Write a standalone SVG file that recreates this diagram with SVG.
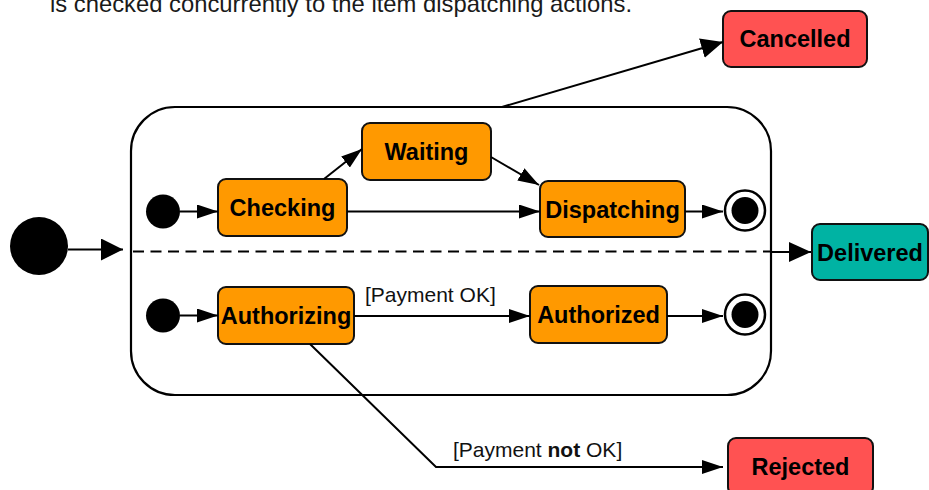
<svg xmlns="http://www.w3.org/2000/svg" width="929" height="490" viewBox="0 0 929 490">
  <style>
    .state { stroke: #111; stroke-width: 2; }
    .work { fill: #FF9900; }
    .fail { fill: #FF5252; }
    .done { fill: #00B3A3; }
    .label { font-family: "Liberation Sans", Arial, sans-serif; font-size: 23.5px; font-weight: bold; fill: #000; text-anchor: middle; }
    .guard { font-family: "Liberation Sans", Arial, sans-serif; font-size: 21px; fill: #111; }
    .edge { fill: none; stroke: #000; stroke-width: 2; }
  </style>
  <defs>
    <marker id="arrow" markerUnits="userSpaceOnUse" markerWidth="21" markerHeight="14" refX="21" refY="7" orient="auto">
      <path d="M0,0 L21,7 L0,14 z" fill="#000"/>
    </marker>
    <marker id="arrowMid" markerUnits="userSpaceOnUse" markerWidth="22" markerHeight="20" refX="22" refY="10" orient="auto">
      <path d="M0,0 L22,10 L0,20 z" fill="#000"/>
    </marker>
    <marker id="arrowBig" markerUnits="userSpaceOnUse" markerWidth="22" markerHeight="22" refX="22" refY="11" orient="auto">
      <path d="M0,0 L22,11 L0,22 z" fill="#000"/>
    </marker>
  </defs>

  <text x="50" y="12" font-family="'Liberation Sans', Arial, sans-serif" font-size="23.8" fill="#1a1a1a">is checked concurrently to the item dispatching actions.</text>

  <!-- composite state with two concurrent regions -->
  <g id="order-processing">
    <rect x="131" y="107" width="640" height="288" rx="44" ry="44" fill="#fff" stroke="#000" stroke-width="2.2"/>
    <line x1="133" y1="251.5" x2="770" y2="251.5" stroke="#000" stroke-width="2" stroke-dasharray="11 6.5"/>
  </g>

  <g id="start">
    <circle cx="39" cy="246" r="29" fill="#000"/>
  </g>

  <g id="init-dispatch">
    <circle cx="163" cy="211.5" r="17" fill="#000"/>
  </g>
  <g id="init-payment">
    <circle cx="163" cy="315.5" r="17" fill="#000"/>
  </g>

  <g id="checking">
    <rect class="state work" x="218" y="179" width="129" height="57" rx="8"/>
    <text class="label" x="282.5" y="216">Checking</text>
  </g>
  <g id="waiting">
    <rect class="state work" x="362" y="123" width="129" height="57" rx="8"/>
    <text class="label" x="426.5" y="160">Waiting</text>
  </g>
  <g id="dispatching">
    <rect class="state work" x="540" y="181" width="145" height="56" rx="8"/>
    <text class="label" x="612.5" y="217.5">Dispatching</text>
  </g>
  <g id="end-dispatch">
    <circle cx="745" cy="210.5" r="20" fill="#fff" stroke="#000" stroke-width="2.5"/>
    <circle cx="745" cy="210.5" r="13.5" fill="#000"/>
  </g>

  <g id="authorizing">
    <rect class="state work" x="218" y="287" width="136" height="57" rx="8"/>
    <text class="label" x="286" y="324">Authorizing</text>
  </g>
  <g id="authorized">
    <rect class="state work" x="530" y="286" width="137" height="57" rx="8"/>
    <text class="label" x="598.5" y="323">Authorized</text>
  </g>
  <g id="end-payment">
    <circle cx="745" cy="314.5" r="20" fill="#fff" stroke="#000" stroke-width="2.5"/>
    <circle cx="745" cy="314.5" r="13.5" fill="#000"/>
  </g>

  <g id="cancelled">
    <rect class="state fail" x="723" y="11" width="144" height="56" rx="8"/>
    <text class="label" x="795" y="47">Cancelled</text>
  </g>
  <g id="delivered">
    <rect class="state done" x="812" y="224" width="116" height="56" rx="8"/>
    <text class="label" x="870" y="260.5">Delivered</text>
  </g>
  <g id="rejected">
    <rect class="state fail" x="728" y="438" width="145" height="57" rx="8"/>
    <text class="label" x="800.5" y="475">Rejected</text>
  </g>

  <g id="connectors">
    <line class="edge" x1="68" y1="249.5" x2="123" y2="249.5" marker-end="url(#arrowBig)"/>
    <line class="edge" x1="180" y1="211.5" x2="218" y2="211.5" marker-end="url(#arrow)"/>
    <line class="edge" x1="324" y1="179" x2="362" y2="149" marker-end="url(#arrow)"/>
    <line class="edge" x1="491" y1="157" x2="539" y2="185" marker-end="url(#arrow)"/>
    <line class="edge" x1="347" y1="211.5" x2="540" y2="211.5" marker-end="url(#arrow)"/>
    <line class="edge" x1="685" y1="211.5" x2="723" y2="211.5" marker-end="url(#arrow)"/>
    <line class="edge" x1="180" y1="315.5" x2="218" y2="315.5" marker-end="url(#arrow)"/>
    <line class="edge" x1="354" y1="316" x2="530" y2="316" marker-end="url(#arrow)"/>
    <text class="guard" x="365" y="302">[Payment OK]</text>
    <line class="edge" x1="667" y1="316" x2="723" y2="316" marker-end="url(#arrow)"/>
    <line class="edge" x1="771" y1="252" x2="811" y2="252" marker-end="url(#arrowMid)"/>
    <line class="edge" x1="502" y1="107" x2="723" y2="42" marker-end="url(#arrowMid)"/>
    <polyline class="edge" points="310,344 436,467 723,467" marker-end="url(#arrow)"/>
    <text class="guard" x="453" y="457">[Payment <tspan font-weight="bold">not</tspan> OK]</text>
  </g>
</svg>
